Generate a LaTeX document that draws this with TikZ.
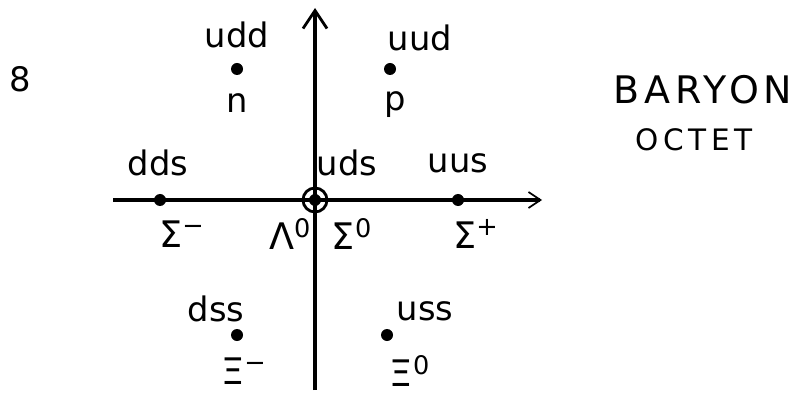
\documentclass[tikz,border=0pt]{standalone}
\usepackage{fontspec}
\setmainfont{DejaVu Sans}
\usepackage{tikz}
\usetikzlibrary{arrows.meta, positioning}

\begin{document}
\begin{tikzpicture}[x=0.025cm, y=0.025cm,
    quark/.style={font=\fontsize{24}{28}\selectfont, inner sep=0pt},
    hadron/.style={font=\fontsize{26}{30}\selectfont, inner sep=0pt},
    state/.style={circle, fill=black, inner sep=0pt, minimum size=0.3cm},
    axis/.style={line width=2.4pt}]

\useasboundingbox (0,0) rectangle (800,395);

% ── axes ──────────────────────────────────────────────────────────
\coordinate (ybot) at (315,5);
\coordinate (ytop) at (315,387);
\coordinate (xleft) at (113,195);
\coordinate (xright) at (542,195);
\draw[axis, -{Straight Barb[length=4.5mm, width=6mm, line width=2pt]}] (ybot) -- (ytop);
\draw[axis, -{Straight Barb[length=3mm, width=4mm, line width=1.2pt]}] (xleft) -- (xright);

% ── states ────────────────────────────────────────────────────────
\node[state] (n)    at (237,326) {};
\node[state] (p)    at (390,326) {};
\node[state] (sigm) at (160,195) {};
\node[state] (lam)  at (315,195) {};
\node[state] (sigp) at (458,195) {};
\node[state] (xim)  at (237,60) {};
\node[state] (xiz)  at (387,60) {};
\draw[line width=2pt] (lam) circle (0.3cm);

% quark content
\node[quark] (qn)    at (237,360) {udd};
\node[quark] (qp)    at (420,357) {uud};
\node[quark] (qsigm) at (158,232) {dds};
\node[quark] (qlam)  at (347,232) {uds};
\node[quark] (qsigp) at (458,232) {uus};
\node[quark] (qxim)  at (216,86) {dss};
\node[quark] (qxiz)  at (425,84) {uss};

% particle names
\node[quark]  (ln)    at (237,292) {n};
\node[quark]  (lp)    at (395,290) {p};
\node[hadron] (lsigm) at (182,161) {Σ\textsuperscript{−}};
\node[hadron] (llam)  at (290,161) {Λ\textsuperscript{0}};
\node[hadron] (lsigz) at (352,161) {Σ\textsuperscript{0}};
\node[hadron] (lsigp) at (476,161) {Σ\textsuperscript{+}};
\node[hadron] (lxim)  at (244,24) {Ξ\textsuperscript{−}};
\node[hadron] (lxiz)  at (410,24) {Ξ\textsuperscript{0}};

% ── titles ────────────────────────────────────────────────────────
\node[quark] (dim) at (20,316) {8};
\node[font=\fontsize{27}{31}\selectfont\addfontfeature{LetterSpace=12}, inner sep=0pt] (title) at (703,305) {BARYON};
\node[font=\fontsize{21}{25}\selectfont\addfontfeature{LetterSpace=15}, inner sep=0pt] (subtitle) at (694,255) {OCTET};

\end{tikzpicture}
\end{document}
